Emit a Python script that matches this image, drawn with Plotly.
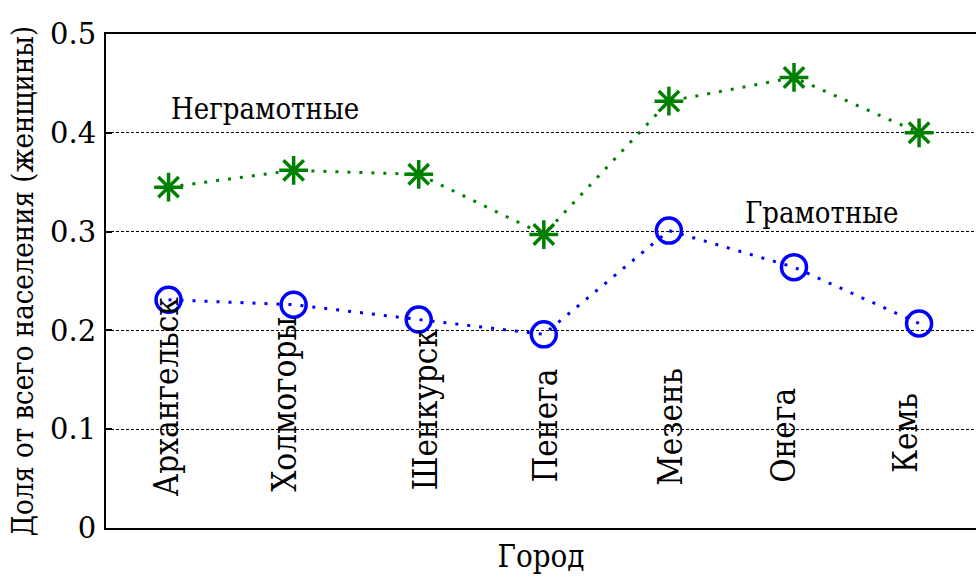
import plotly.graph_objects as go

# Cities along the x axis
cities = ["Архангельск", "Холмогоры", "Шенкурск", "Пенега", "Мезень", "Онега", "Кемь"]

# Share of the total population (women)
illiterate = [0.345, 0.362, 0.358, 0.297, 0.432, 0.456, 0.400]
literate = [0.231, 0.226, 0.211, 0.196, 0.301, 0.264, 0.207]

y_ticks = [0, 0.1, 0.2, 0.3, 0.4, 0.5]
y_ticklabels = ["0", "0.1", "0.2", "0.3", "0.4", "0.5"]

# Where each vertical city name sits inside the axes (data units)
label_x = [0.99, 1.93, 3.05, 4.01, 5.01, 5.91, 6.89]
label_y = [0.030, 0.035, 0.036, 0.044, 0.041, 0.044, 0.054]

x_pos = list(range(1, len(cities) + 1))
FONT = "DejaVu Serif"
FONTC = "DejaVu Serif Condensed"

fig = go.Figure()

fig.add_trace(go.Scatter(
    x=x_pos, y=illiterate, mode="lines+markers",
    line=dict(color="#008000", width=3, dash="3px,9px"),
    marker=dict(symbol="asterisk-open", size=24,
                line=dict(color="#008000", width=3.5)),
    showlegend=False,
))
fig.add_trace(go.Scatter(
    x=x_pos, y=literate, mode="lines+markers",
    line=dict(color="#0000ff", width=3, dash="3px,9px"),
    marker=dict(symbol="circle-open", size=25,
                line=dict(color="#0000ff", width=3.5)),
    showlegend=False,
))

annotations = []
for name, lx, ly in zip(cities, label_x, label_y):
    annotations.append(dict(
        x=lx, y=ly, xref="x", yref="y", text=name, showarrow=False,
        textangle=-90, xanchor="center", yanchor="bottom",
        font=dict(family=FONTC, size=33, color="black"),
    ))

annotations.append(dict(
    x=1.0, y=0.424, xref="x", yref="y", text="Неграмотные", showarrow=False,
    xanchor="left", yanchor="middle",
    font=dict(family=FONTC, size=29, color="black"),
))
annotations.append(dict(
    x=5.59, y=0.319, xref="x", yref="y", text="Грамотные", showarrow=False,
    xanchor="left", yanchor="middle",
    font=dict(family=FONTC, size=29, color="black"),
))

fig.update_layout(
    width=976, height=583,
    margin=dict(l=106, r=0, t=34, b=55),
    paper_bgcolor="white", plot_bgcolor="white",
    font=dict(family=FONTC, size=29, color="black"),
    annotations=annotations,
)

fig.update_xaxes(
    range=[0.5, 7.455], showgrid=False, zeroline=False,
    showticklabels=False, ticks="",
    showline=True, linecolor="black", linewidth=2, mirror=True,
    title=dict(text="Город", font=dict(family=FONTC, size=31), standoff=16),
)
fig.update_yaxes(
    range=[0, 0.5], tickvals=y_ticks, ticktext=y_ticklabels,
    showgrid=True, gridcolor="black", gridwidth=1.2, griddash="3px,2px",
    zeroline=False, ticks="inside", ticklen=6, tickwidth=1.5, tickcolor="black",
    tickfont=dict(family=FONT, size=29), ticklabelstandoff=2,
    showline=True, linecolor="black", linewidth=2, mirror=False,
    title=dict(text="Доля от всего населения (женщины)",
               font=dict(family=FONTC, size=29), standoff=8),
)

fig.write_html("out.html")
